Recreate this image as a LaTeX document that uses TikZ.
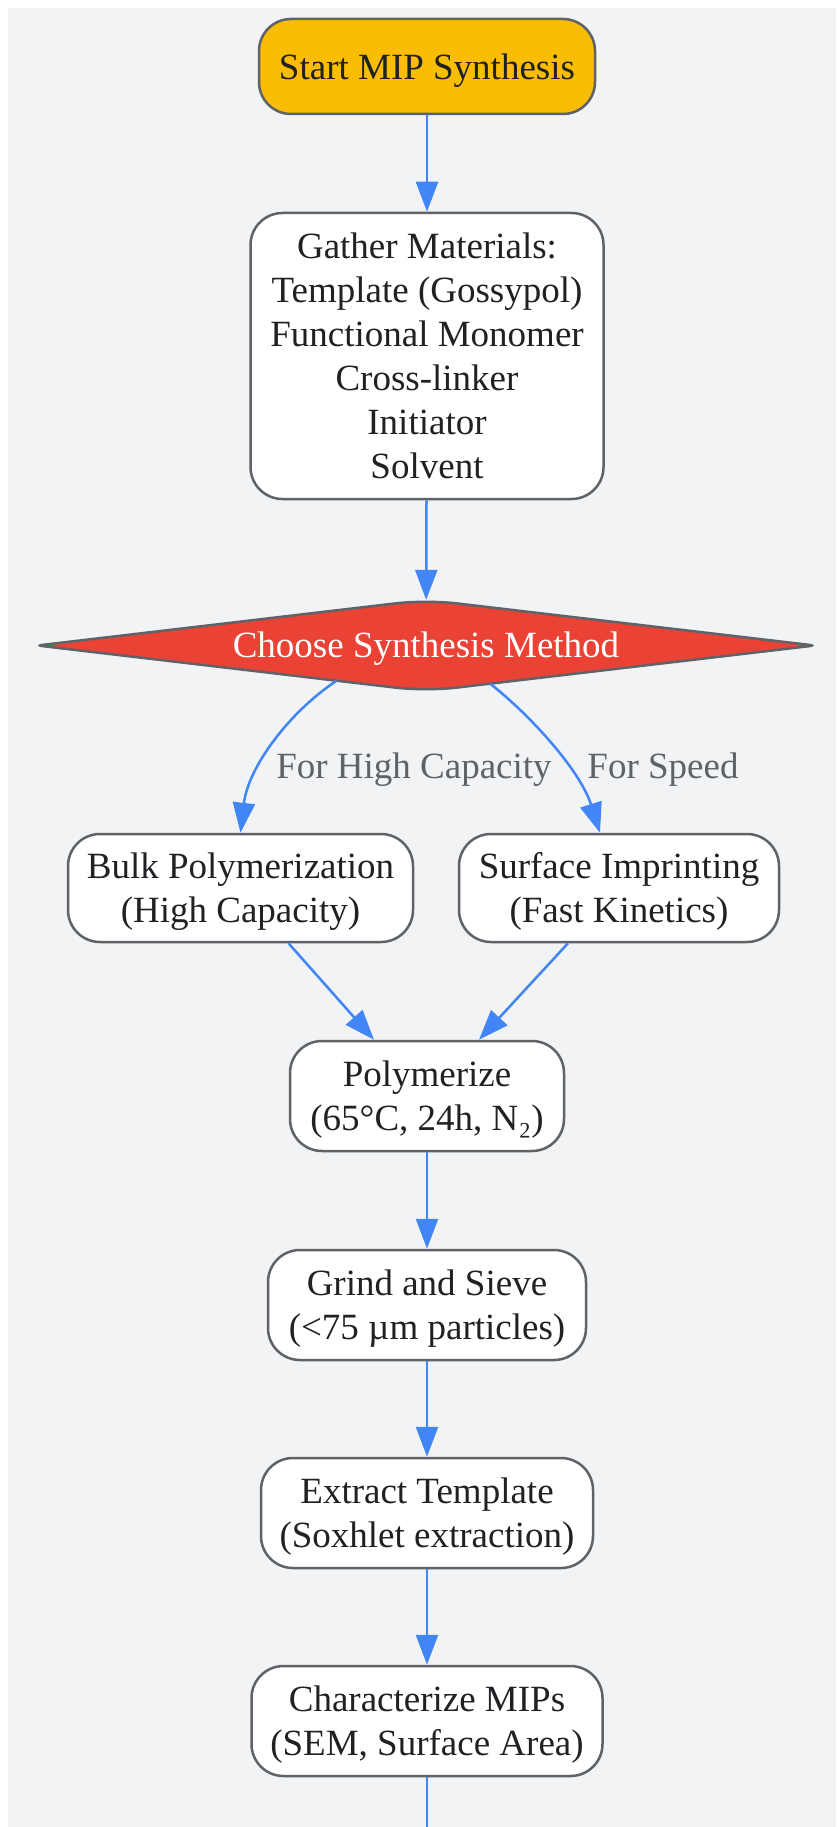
\documentclass[tikz,border=0pt]{standalone}
\usepackage{fontspec}
\setmainfont{Liberation Serif}
\usetikzlibrary{arrows.meta,shapes.geometric,calc,backgrounds}
\definecolor{bgc}{HTML}{F1F3F4}
\definecolor{strokec}{HTML}{5F6368}
\definecolor{textc}{HTML}{202124}
\definecolor{bluec}{HTML}{4285F4}
\definecolor{startc}{HTML}{FBBC04}
\definecolor{redc}{HTML}{EA4335}
\newcommand{\tx}[1]{\vbox{\kern8pt\hbox{\begin{tabular}{@{}c@{}}#1\end{tabular}}}}
\begin{document}
\begin{tikzpicture}[x=1pt,y=-1pt,
  box/.style={draw=strokec, line width=2.5pt, fill=white, rounded corners=32pt,
    inner sep=0pt, text=textc, font=\fontsize{37}{44}\selectfont},
  startbox/.style={box, fill=startc},
  choicebox/.style={diamond, aspect=8.5, inner sep=0pt, minimum width=777pt,
    minimum height=91pt, text=white, font=\fontsize{37}{44}\selectfont},
  choiceshape/.style={draw=strokec, line width=2.5pt, fill=redc},
  lbl/.style={text=strokec, inner sep=0pt, font=\fontsize{37}{44}\selectfont},
  line/.style={draw=bluec, line width=2.5pt},
  arr/.style={line, -{Triangle[length=30pt,width=22pt]}}
]
\useasboundingbox (0,0) rectangle (836,1827);
\begin{scope}[on background layer]
\fill[bgc] (8,8) rectangle (836,1827);
\end{scope}

\node[startbox, minimum width=336pt, minimum height=95pt] (start) at (427,66.5) {\tx{Start MIP Synthesis}};
\node[box, minimum width=353pt, minimum height=286pt] (gather) at (427,356)
  {\tx{Gather Materials:\\Template (Gossypol)\\Functional Monomer\\Cross-linker\\Initiator\\Solvent}};
\node[choicebox] (choose) at (426,645.5) {\raisebox{-12pt}[0pt][0pt]{Choose Synthesis Method}};
\begin{scope}[on background layer]
\path[choiceshape] ($(choose.west)!0.5!(choose.north)$) [rounded corners=30pt] -- (choose.north)
  -- ($(choose.north)!0.5!(choose.east)$) [rounded corners=5pt] -- (choose.east)
  -- ($(choose.east)!0.5!(choose.south)$) [rounded corners=30pt] -- (choose.south)
  -- ($(choose.south)!0.5!(choose.west)$) [rounded corners=5pt] -- (choose.west) -- cycle;
\end{scope}
\node[box, minimum width=345pt, minimum height=108pt] (bulk) at (240.5,888)
  {\tx{Bulk Polymerization\\(High Capacity)}};
\node[box, minimum width=320pt, minimum height=108pt] (surface) at (619,888)
  {\tx{Surface Imprinting\\(Fast Kinetics)}};
\node[box, minimum width=274pt, minimum height=110pt] (poly) at (427,1096)
  {\tx{Polymerize\\(65°C, 24h, N₂)}};
\node[box, minimum width=318pt, minimum height=110pt] (grind) at (427,1305)
  {\tx{Grind and Sieve\\(<75 µm particles)}};
\node[box, minimum width=332pt, minimum height=110pt] (extract) at (427,1513)
  {\tx{Extract Template\\(Soxhlet extraction)}};
\node[box, minimum width=351pt, minimum height=110pt] (charac) at (427,1721)
  {\tx{Characterize MIPs\\(SEM, Surface Area)}};
\coordinate (bottomend) at (427,1827);

\draw[arr] (start) -- (gather);
\draw[arr] (gather) -- (choose);
\draw[arr] ($(choose.south)!0.23!(choose.west)$) .. controls (288,713) and (248,768) .. (bulk.north);
\draw[arr] ($(choose.south)!0.165!(choose.east)$) .. controls (530,715) and (580,770) .. ($(surface.north)+(-19,0)$);
\node[lbl] (lblhc) at (414,770) {For High Capacity};
\node[lbl] (lblsp) at (663,770) {For Speed};
\draw[arr] ($(bulk.south)+(48,0)$) -- ($(poly.north)+(-53,0)$);
\draw[arr] ($(surface.south)+(-51,0)$) -- ($(poly.north)+(52,0)$);
\draw[arr] (poly) -- (grind);
\draw[arr] (grind) -- (extract);
\draw[arr] (extract) -- (charac);
\draw[line] (charac) -- (bottomend);
\end{tikzpicture}
\end{document}
